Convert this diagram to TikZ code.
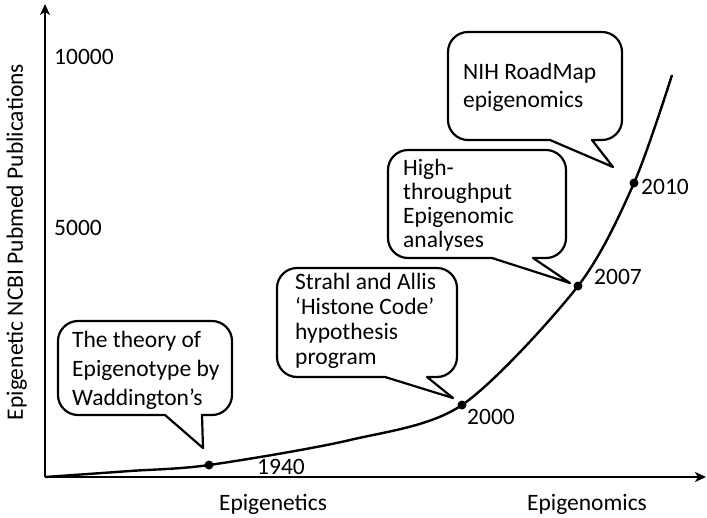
\documentclass[tikz,border=0pt]{standalone}
\usepackage{fontspec}
\setmainfont{Carlito}
\usetikzlibrary{arrows.meta}

% speech bubble: x1,y1 (top left), x2,y2 (bottom right), pointer base left x, tip x, tip y, pointer base right x
% corners are quarter circles of radius 20 (cubic approximation)
\newcommand\speechbubble[8]{%
  \draw[bubbleline] (#5,#4) -- (#6,#7) -- (#8,#4) -- ({#3-20},#4)
    .. controls ({#3-9},#4) and (#3,{#4-9}) .. (#3,{#4-20}) -- (#3,{#2+20})
    .. controls (#3,{#2+9}) and ({#3-9},#2) .. ({#3-20},#2) -- ({#1+20},#2)
    .. controls ({#1+9},#2) and (#1,{#2+9}) .. (#1,{#2+20}) -- (#1,{#4-20})
    .. controls (#1,{#4-9}) and ({#1+9},#4) .. ({#1+20},#4) -- cycle;}

\begin{document}
\begin{tikzpicture}[x=1pt,y=-1pt,
  axisline/.style={line width=2.6pt,-{Stealth[length=11pt,width=10pt,inset=3pt]}},
  growth/.style={line width=2.4pt},
  bubbleline/.style={line width=2.2pt,fill=white,line join=round},
  bubbletext/.style={anchor=base west,align=left,inner sep=0pt,font=\fontsize{23.5}{#1}\selectfont},
  plain/.style={inner sep=0pt,font=\fontsize{23.5}{28}\selectfont},
  yeardot/.style={circle,fill=black,inner sep=0pt,minimum size=9pt}]
\useasboundingbox (0,0) rectangle (707,517);

% axes
\coordinate (O) at (45,477);
\coordinate (ytop) at (45,4);
\coordinate (xend) at (706,477);
\draw[axisline] (O) -- (ytop);
\draw[axisline] (O) -- (xend);

\node[plain,rotate=90,anchor=base] (ylabel) at (23,242) {Epigenetic NCBI Pubmed Publications};
\node[plain,anchor=base west] (t10000) at (54,64.5) {10000};
\node[plain,anchor=base west] (t5000) at (54,235.5) {5000};
\node[plain,anchor=base] (xleft) at (273,510) {Epigenetics};
\node[plain,anchor=base] (xright) at (587,510) {Epigenomics};

% milestones on the curve
\node[yeardot] (y1940) at (209,465) {};
\node[yeardot] (y2000) at (462,405) {};
\node[yeardot] (y2007) at (578,286) {};
\node[yeardot] (y2010) at (634,183) {};
\coordinate (c1) at (130,471);
\coordinate (c2) at (350,440);
\coordinate (cend) at (672,75);
\draw[growth] plot[smooth,tension=0.5] coordinates {(O) (c1) (y1940) (c2) (y2000) (y2007) (y2010) (cend)};

\node[plain,anchor=base] (l1940) at (281,474.5) {1940};
\node[plain,anchor=base west] (l2000) at (467,424.5) {2000};
\node[plain,anchor=base] (l2007) at (618,284.5) {2007};
\node[plain,anchor=base] (l2010) at (665,194.5) {2010};

% callouts (text nodes are placed by the baseline of their last line)
\speechbubble{58}{321}{232}{415}{165}{203}{448}{202}
\node[bubbletext=29] (waddington) at (72,405.5) {The theory of\\Epigenotype by\\Waddington’s};

\speechbubble{277}{268}{457}{377}{385}{453}{398}{427}
\node[bubbletext=25] (histone) at (295,364.5) {Strahl and Allis\\‘Histone Code’\\hypothesis\\program};

\speechbubble{388}{150}{566}{258}{492}{570}{283}{533}
\node[bubbletext=24] (highthroughput) at (403,247.5) {High-\\throughput\\Epigenomic\\analyses};

\speechbubble{448}{32}{622}{140}{550}{613}{167}{592}
\node[bubbletext=28] (roadmap) at (463,107.5) {NIH RoadMap\\epigenomics};
\end{tikzpicture}
\end{document}
